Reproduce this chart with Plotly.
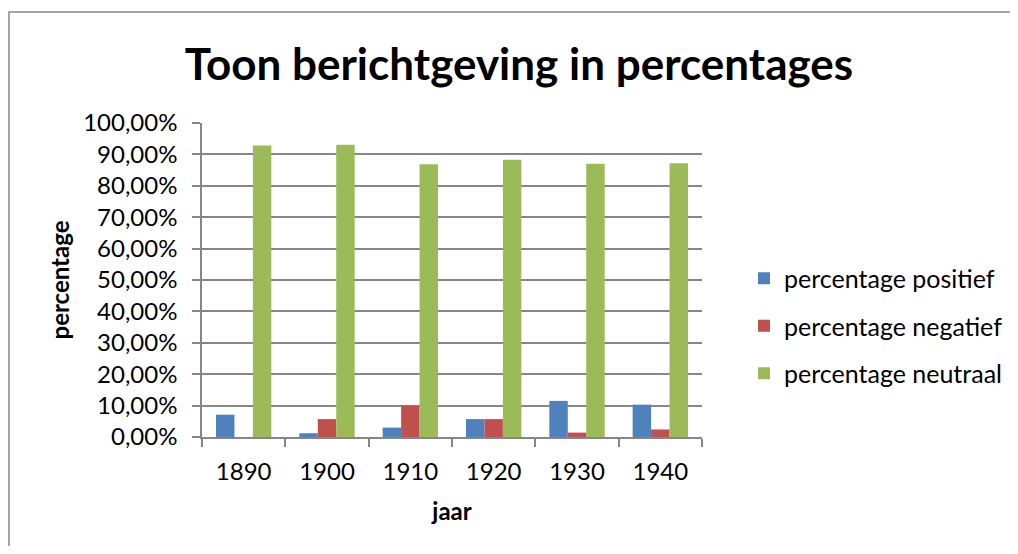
import plotly.graph_objects as go

years = ["1890", "1900", "1910", "1920", "1930", "1940"]
positief = [0.071, 0.012, 0.030, 0.057, 0.115, 0.103]
negatief = [0.0, 0.057, 0.100, 0.057, 0.014, 0.024]
neutraal = [0.928, 0.931, 0.869, 0.883, 0.870, 0.872]

series_names = ["percentage positief", "percentage negatief", "percentage neutraal"]
series_values = [positief, negatief, neutraal]
colors = ["#4F81BD", "#C0504D", "#9BBB59"]

FONT = "Lato"
OFF = 8  # page body margin
W, H = 1018 - 2 * OFF, 554 - 2 * OFF
pw, ph = 500, 314
L, T = 202 - OFF, 123 - OFF
R, B = W - L - pw, H - T - ph


def px(xpage):
    return (xpage - OFF - L) / pw


def py(ypage):
    return (T + ph - (ypage - OFF)) / ph


fig = go.Figure()
for i, (name, vals) in enumerate(zip(series_names, series_values)):
    fig.add_trace(go.Bar(
        x=years, y=vals, name=name,
        marker=dict(color=colors[i], line=dict(width=0)),
        legendgroup=name,
    ))

fig.update_layout(
    width=W, height=H,
    margin=dict(l=L, r=R, t=T, b=B, autoexpand=False),
    paper_bgcolor="white", plot_bgcolor="white",
    separators=",.",
    barmode="group", bargap=0.336, bargroupgap=0,
    font=dict(family=FONT, color="black", size=24),
    title=dict(text="<b>Toon berichtgeving in percentages</b>",
               x=(519 - OFF) / W, xanchor="center", y=1 - (65 - OFF) / H, yanchor="middle",
               font=dict(family=FONT, size=44, color="black")),
    showlegend=True,
    legend=dict(x=px(744), xanchor="left", y=py(326), yanchor="middle",
                font=dict(family=FONT, size=25, color="black"),
                tracegroupgap=12, itemwidth=30, bgcolor="rgba(0,0,0,0)"),
    shapes=[dict(type="rect", xref="paper", yref="paper",
                 x0=px(9), x1=px(1040), y0=py(600), y1=py(12),
                 line=dict(color="#888888", width=1.5), fillcolor="rgba(0,0,0,0)", layer="below")],
)

fig.update_xaxes(
    type="category", showline=True, linecolor="#868686", linewidth=1.5,
    ticks="outside", tickson="boundaries", ticklen=8, tickcolor="#868686", tickwidth=1.5,
    showgrid=False, tickfont=dict(family=FONT, size=24), ticklabelstandoff=12,
    title=dict(text="<b>jaar</b>", font=dict(family=FONT, size=24), standoff=20),
)
fig.update_yaxes(
    range=[0, 1], tickvals=[i / 10 for i in range(11)], tickformat=".2%",
    showline=True, linecolor="#868686", linewidth=1.5,
    ticks="outside", ticklen=8, tickcolor="#868686", tickwidth=1.5,
    showgrid=True, gridcolor="#868686", gridwidth=1.5, zeroline=False,
    tickfont=dict(family=FONT, size=24), ticklabelstandoff=10,
    title=dict(text="<b>percentage</b>", font=dict(family=FONT, size=24), standoff=7),
)

fig.write_html("out.html")
